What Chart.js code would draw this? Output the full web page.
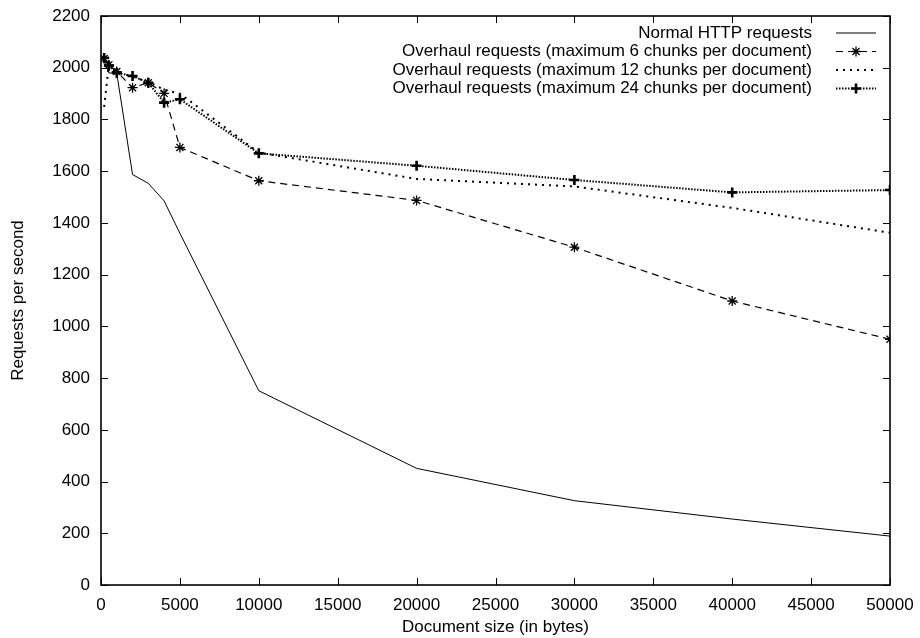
<!DOCTYPE html>
<html>
<head>
<meta charset="utf-8">
<title>Requests per second</title>
<script src="https://cdn.jsdelivr.net/npm/chart.js"></script>
<style>
  html, body { margin: 0; padding: 0; background: #fff; }
  canvas { display: block; }
</style>
</head>
<body>
<canvas id="istekChart" width="920" height="638"></canvas>
<script>
/*VERILER*/
var belgeBoyutlari = [200, 500, 1000, 2000, 3000, 4000, 5000, 10000, 20000, 30000, 40000, 50000];
var normalIstekler = [2028, 1980, 1978, 1587, 1553, 1485, 1360, 751, 451, 326, 255, 189];
var parca6Istekler = [2036, 2011, 1985, 1923, 1942, 1901, 1692, 1563, 1487, 1306, 1098, 950];
var parca12Istekler = [1849, 2012, 1985, 1965, 1945, 1915, 1900, 1672, 1570, 1541, 1458, 1362];
var parca24Istekler = [2038, 2008, 1980, 1968, 1942, 1865, 1878, 1669, 1621, 1566, 1518, 1527];
var seriAdlari = [
  "Normal HTTP requests",
  "Overhaul requests (maximum 6 chunks per document)",
  "Overhaul requests (maximum 12 chunks per document)",
  "Overhaul requests (maximum 24 chunks per document)"
];
var xEtiketleri = [0, 5000, 10000, 15000, 20000, 25000, 30000, 35000, 40000, 45000, 50000];
var yEtiketleri = [0, 200, 400, 600, 800, 1000, 1200, 1400, 1600, 1800, 2000, 2200];
/*VERILER*/

var yaziTipi = "'Liberation Sans', Arial, Helvetica, sans-serif";

function noktalar(degerler) {
  var sonuc = [];
  for (var i = 0; i < belgeBoyutlari.length; i++) {
    sonuc.push({x: belgeBoyutlari[i], y: degerler[i]});
  }
  return sonuc;
}

/*CERCEVE, ICE DONUK CENTIKLER VE SAG UST LEJANT*/
var cercevePlugin = {
  id: "cerceve",
  afterDraw: function (chart) {
    var ctx = chart.ctx;
    var a = chart.chartArea;
    var xs = chart.scales.x;
    var ys = chart.scales.y;
    var uz = 7;

    ctx.save();
    ctx.strokeStyle = "#000";
    ctx.lineWidth = 1;
    ctx.setLineDash([]);
    ctx.beginPath();
    for (var i = 0; i < xEtiketleri.length; i++) {
      var px = Math.round(xs.getPixelForValue(xEtiketleri[i])) + 0.5;
      ctx.moveTo(px, a.bottom);
      ctx.lineTo(px, a.bottom - uz);
      ctx.moveTo(px, a.top);
      ctx.lineTo(px, a.top + uz);
    }
    for (var j = 0; j < yEtiketleri.length; j++) {
      var py = Math.round(ys.getPixelForValue(yEtiketleri[j])) + 0.5;
      ctx.moveTo(a.left, py);
      ctx.lineTo(a.left + uz, py);
      ctx.moveTo(a.right, py);
      ctx.lineTo(a.right - uz, py);
    }
    ctx.stroke();

    ctx.lineWidth = 1.6;
    ctx.strokeRect(a.left, a.top, a.right - a.left, a.bottom - a.top);

    // lejant
    var metinSag = 812;
    var cizgiBas = 836;
    var cizgiSon = 876;
    var satirlar = [33, 51.5, 70, 88.5];
    ctx.font = "17px " + yaziTipi;
    ctx.fillStyle = "#000";
    ctx.textAlign = "right";
    ctx.textBaseline = "middle";
    for (var k = 0; k < chart.data.datasets.length; k++) {
      var ds = chart.data.datasets[k];
      var yy = satirlar[k];
      ctx.fillText(ds.label, metinSag, yy);
      ctx.save();
      ctx.lineWidth = ds.borderWidth;
      ctx.setLineDash(ds.borderDash || []);
      ctx.beginPath();
      ctx.moveTo(cizgiBas, yy);
      ctx.lineTo(cizgiSon, yy);
      ctx.stroke();
      ctx.restore();
      if (ds.pointRadius > 0 && Chart.helpers && Chart.helpers.drawPoint) {
        ctx.save();
        ctx.lineWidth = ds.pointBorderWidth;
        ctx.strokeStyle = "#000";
        ctx.fillStyle = "#000";
        ctx.setLineDash([]);
        Chart.helpers.drawPoint(ctx, {
          pointStyle: ds.pointStyle,
          radius: ds.pointRadius,
          rotation: 0,
          borderWidth: ds.pointBorderWidth
        }, (cizgiBas + cizgiSon) / 2, yy);
        ctx.restore();
      }
    }
    ctx.restore();
  }
};

var ctx = document.getElementById("istekChart");
var myChart = new Chart(ctx, {
  type: "line",
  data: {
    datasets: [{
      label: seriAdlari[0],
      data: noktalar(normalIstekler),
      borderColor: "#000",
      borderWidth: 1,
      pointRadius: 0,
      tension: 0
    }, {
      label: seriAdlari[1],
      data: noktalar(parca6Istekler),
      borderColor: "#000",
      borderWidth: 1.2,
      borderDash: [7, 5],
      pointStyle: "star",
      pointRadius: 5,
      pointBorderWidth: 1.3,
      pointBorderColor: "#000",
      pointBackgroundColor: "#000",
      tension: 0
    }, {
      label: seriAdlari[2],
      data: noktalar(parca12Istekler),
      borderColor: "#000",
      borderWidth: 2,
      borderDash: [2, 5],
      pointRadius: 0,
      tension: 0
    }, {
      label: seriAdlari[3],
      data: noktalar(parca24Istekler),
      borderColor: "#000",
      borderWidth: 2,
      borderDash: [1.5, 1.5],
      pointStyle: "cross",
      pointRadius: 5,
      pointBorderWidth: 2.6,
      pointBorderColor: "#000",
      pointBackgroundColor: "#000",
      tension: 0
    }]
  },
  options: {
    responsive: false,
    animation: false,
    devicePixelRatio: 1,
    layout: {padding: {top: 16, right: 30, left: 0, bottom: 0}},
    plugins: {
      legend: {display: false},
      tooltip: {enabled: false}
    },
    scales: {
      x: {
        type: "linear",
        min: 0,
        max: 50000,
        afterBuildTicks: function (scale) {
          scale.ticks = xEtiketleri.map(function (v) { return {value: v}; });
        },
        afterFit: function (scale) {
          scale.height = 53;
          scale.paddingLeft = 0;
          scale.paddingRight = 0;
        },
        grid: {display: false, drawTicks: false},
        border: {display: false},
        ticks: {
          color: "#000",
          padding: 10,
          maxRotation: 0,
          autoSkip: false,
          font: {family: yaziTipi, size: 17},
          callback: function (v) { return String(v); }
        },
        title: {
          display: true,
          text: "Document size (in bytes)",
          color: "#000",
          padding: {top: 0, bottom: 0},
          font: {family: yaziTipi, size: 17}
        }
      },
      y: {
        min: 0,
        max: 2200,
        afterBuildTicks: function (scale) {
          scale.ticks = yEtiketleri.map(function (v) { return {value: v}; });
        },
        afterFit: function (scale) {
          scale.width = 101;
          scale.paddingTop = 0;
          scale.paddingBottom = 0;
        },
        grid: {display: false, drawTicks: false},
        border: {display: false},
        ticks: {
          color: "#000",
          padding: 11,
          autoSkip: false,
          font: {family: yaziTipi, size: 17},
          callback: function (v) { return String(v); }
        },
        title: {
          display: true,
          text: "Requests per second",
          color: "#000",
          padding: {top: 8, bottom: 0},
          font: {family: yaziTipi, size: 17}
        }
      }
    }
  },
  plugins: [cercevePlugin]
});
</script>
</body>
</html>
